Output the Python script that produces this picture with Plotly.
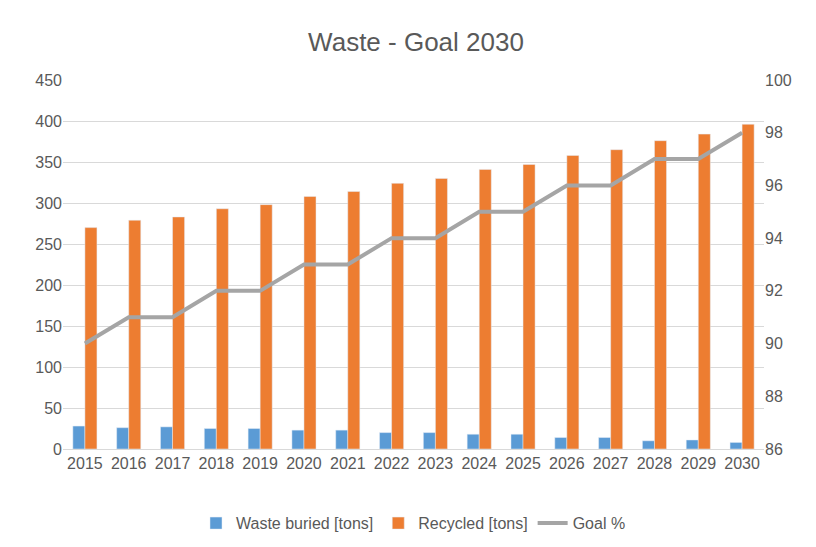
import plotly.graph_objects as go

years = [str(y) for y in range(2015, 2031)]
buried = [28, 26, 27, 25, 25, 23, 23, 20, 20, 18, 18, 14, 14, 10, 11, 8]
recycled = [270, 279, 283, 293, 298, 308, 314, 324, 330, 341, 347, 358, 365, 376, 384, 396]
goal = [90, 91, 91, 92, 92, 93, 93, 94, 94, 95, 95, 96, 96, 97, 97, 98]

fig = go.Figure()
fig.add_trace(go.Bar(x=years, y=buried, name="Waste buried [tons]", marker_color="#5B9BD5"))
fig.add_trace(go.Bar(x=years, y=recycled, name="Recycled [tons]", marker_color="#ED7D31"))
fig.add_trace(go.Scatter(x=years, y=goal, name="Goal %", mode="lines",
                         line=dict(color="#A5A5A5", width=4), yaxis="y2"))

fig.update_layout(
    width=816, height=547,
    paper_bgcolor="white", plot_bgcolor="white",
    font=dict(family="Liberation Sans, Arial", size=16, color="#595959"),
    title=dict(text="Waste - Goal 2030", x=0.5, y=0.955, font=dict(size=26, color="#595959")),
    margin=dict(l=55, r=60, t=72, b=106),
    barmode="group", bargap=0.45, bargroupgap=0,
    xaxis=dict(showline=True, linecolor="#D9D9D9", ticks=""),
    yaxis=dict(range=[0, 450], dtick=50, gridcolor="#D9D9D9", zeroline=False),
    yaxis2=dict(range=[86, 100], dtick=2, overlaying="y", side="right", showgrid=False),
    legend=dict(orientation="h", x=0.5, xanchor="center", y=-0.155, yanchor="top",
                font=dict(size=16)),
)
fig.write_html("out.html")
